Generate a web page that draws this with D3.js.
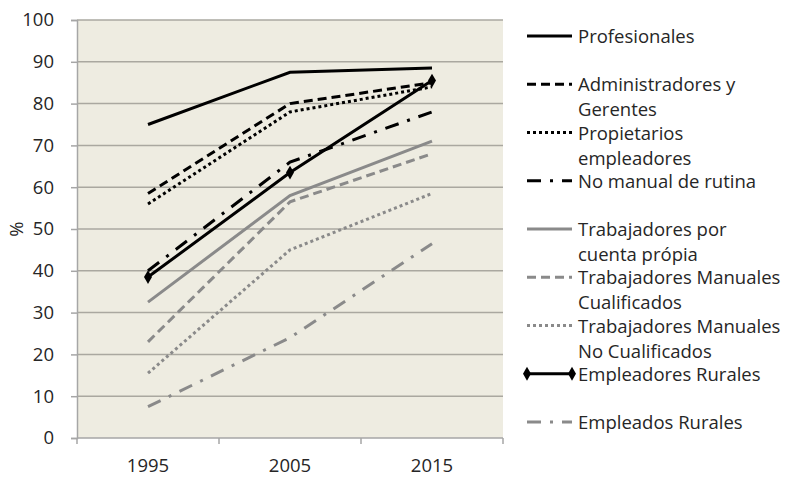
<!DOCTYPE html>
<html>
<head>
<meta charset="utf-8">
<script src="https://cdn.jsdelivr.net/npm/d3@7"></script>
<style>
  body { margin: 0; background: #fff; }
  text { font-family: "Open Sans", "Noto Sans", sans-serif; fill: #262626; }
</style>
</head>
<body>
<svg id="chart" width="794" height="477"></svg>
<script>
// data
var years = ['1995', '2005', '2015'];
var yTicks = [0, 10, 20, 30, 40, 50, 60, 70, 80, 90, 100];

var seriesNames = [
  'Profesionales',
  'Administradores y\nGerentes',
  'Propietarios\nempleadores',
  'No manual de rutina',
  'Trabajadores por\ncuenta própia',
  'Trabajadores Manuales\nCualificados',
  'Trabajadores Manuales\nNo Cualificados',
  'Empleadores Rurales',
  'Empleados Rurales'
];

var profesionales = [75, 87.5, 88.5];
var administradores = [58.5, 80, 85];
var propietarios = [56, 78, 84];
var noManual = [40, 66, 78];
var cuentaPropia = [32.5, 58, 71];
var manualesCualif = [23, 56.5, 68];
var manualesNoCualif = [15.5, 45, 58.5];
var empleadoresRurales = [38.5, 63.5, 85.5];
var empleadosRurales = [7.5, 24, 46.5];

var seriesValues = [profesionales, administradores, propietarios, noManual, cuentaPropia,
  manualesCualif, manualesNoCualif, empleadoresRurales, empleadosRurales];

// styling per series
var black = '#000', grey = '#8a8a8a';
var styles = [
  { color: black, dash: null },
  { color: black, dash: '9,5' },
  { color: black, dash: '3,3' },
  { color: black, dash: '14,9,3,9' },
  { color: grey, dash: null },
  { color: grey, dash: '9,5' },
  { color: grey, dash: '3,3' },
  { color: black, dash: null, marker: true },
  { color: grey, dash: '14,9,3,9' }
];

var margin = { left: 77, right: 503, top: 20, bottom: 438 };
var fontSize = '18.5px';
var svg = d3.select('#chart');

var x = d3.scalePoint().domain(years).range([margin.left, margin.right]).padding(0.5);
var y = d3.scaleLinear().domain([0, 100]).range([margin.bottom, margin.top]);

// plot background
svg.append('rect')
  .attr('x', margin.left).attr('y', margin.top)
  .attr('width', margin.right - margin.left)
  .attr('height', margin.bottom - margin.top)
  .attr('fill', '#eeece1');

// gridlines
svg.append('g').selectAll('line').data(yTicks.slice(1)).enter().append('line')
  .attr('x1', margin.left).attr('x2', margin.right)
  .attr('y1', d => y(d)).attr('y2', d => y(d))
  .attr('stroke', '#aaa8a0').attr('stroke-width', 1.5);

// y axis
var yAxis = svg.append('g')
  .attr('transform', `translate(${margin.left},0)`)
  .call(d3.axisLeft(y).tickValues(yTicks).tickSize(6).tickPadding(17));
yAxis.select('.domain').attr('stroke', '#a6a6a6').attr('stroke-width', 1.5);
yAxis.selectAll('.tick line').attr('stroke', '#a6a6a6').attr('stroke-width', 1.5);
yAxis.selectAll('text').style('font-size', fontSize).attr('fill', '#262626').attr('font-family', null);

// x axis, ticks between categories
var bandW = (margin.right - margin.left) / years.length;
var xAxisG = svg.append('g').attr('transform', `translate(0,${margin.bottom})`);
xAxisG.append('line')
  .attr('x1', margin.left).attr('x2', margin.right)
  .attr('stroke', '#a6a6a6').attr('stroke-width', 1.5);
xAxisG.selectAll('line.tk').data(d3.range(years.length + 1)).enter().append('line')
  .attr('class', 'tk')
  .attr('x1', d => margin.left + d * bandW).attr('x2', d => margin.left + d * bandW)
  .attr('y1', 0).attr('y2', 6)
  .attr('stroke', '#a6a6a6').attr('stroke-width', 1.5);
xAxisG.selectAll('text').data(years).enter().append('text')
  .attr('x', d => x(d)).attr('y', 34)
  .attr('text-anchor', 'middle').style('font-size', fontSize)
  .text(d => d);

// y title
svg.append('text')
  .attr('transform', `translate(23,${y(50)}) rotate(-90)`)
  .attr('text-anchor', 'middle').style('font-size', fontSize)
  .text('%');

// lines
var line = d3.line().x((d, i) => x(years[i])).y(d => y(d));
var diamond = d3.symbol().type(d3.symbolDiamond).size(55);

seriesValues.forEach(function(vals, i) {
  var st = styles[i];
  svg.append('path')
    .datum(vals)
    .attr('d', line)
    .attr('fill', 'none')
    .attr('stroke', st.color)
    .attr('stroke-width', 3)
    .attr('stroke-dasharray', st.dash);
  if (st.marker) {
    svg.append('g').selectAll('path').data(vals).enter().append('path')
      .attr('d', diamond)
      .attr('transform', (d, j) => `translate(${x(years[j])},${y(d)})`)
      .attr('fill', st.color);
  }
});

// legend
var legend = svg.append('g');
var legStep = 48.25;
seriesNames.forEach(function(name, i) {
  var st = styles[i];
  var ly = 36 + i * legStep;
  var g = legend.append('g').attr('transform', `translate(0,${ly})`);
  g.append('line')
    .attr('x1', 527).attr('x2', 572)
    .attr('stroke', st.color).attr('stroke-width', 3)
    .attr('stroke-dasharray', st.dash);
  if (st.marker) {
    g.selectAll('path').data([527, 572]).enter().append('path')
      .attr('d', diamond)
      .attr('transform', d => `translate(${d},0)`)
      .attr('fill', st.color);
  }
  var t = g.append('text').attr('x', 578).attr('y', 7).style('font-size', fontSize);
  name.split('\n').forEach(function(part, k) {
    t.append('tspan').attr('x', 578).attr('dy', k === 0 ? 0 : 25).text(part);
  });
});
</script>
</body>
</html>
